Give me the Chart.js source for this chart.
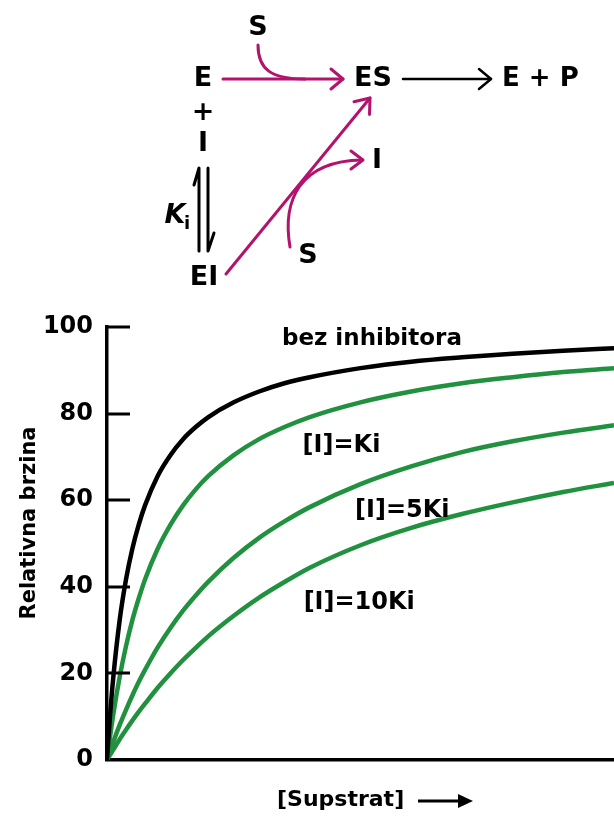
<!DOCTYPE html>
<html>
<head>
<meta charset="utf-8">
<script src="https://cdn.jsdelivr.net/npm/chart.js@4/dist/chart.umd.min.js"></script>
<style>
    html, body { margin: 0; padding: 0; background: #fff; }
    #wrap { width: 614px; height: 816px; position: relative; }
</style>
</head>
<body>
<div id="wrap"><canvas id="rateChart"></canvas></div>
<script>
// Substrate concentration (relative units) and relative rates
const substrate   = [0, 0.1, 0.25, 0.5, 0.75, 1, 1.25, 1.5, 2, 2.5, 3, 3.5, 4, 5, 6, 7, 8, 10, 12, 14, 16, 18, 20];
const noInhibitor = [0, 8.7, 19.2, 32.3, 41.7, 48.8, 54.3, 58.8, 65.6, 70.4, 74.1, 76.9, 79.2, 82.6, 85.1, 87, 88.4, 90.5, 92, 93, 93.8, 94.5, 95.1];
const inhibKi     = [0, 4.5, 10.6, 19.2, 26.3, 32.3, 37.3, 41.7, 48.8, 54.3, 58.8, 62.5, 65.6, 70.4, 74.1, 76.9, 79.2, 82.6, 85.1, 87, 88.4, 89.6, 90.5];
const inhib5Ki    = [0, 1.7, 4.2, 8.1, 11.6, 14.9, 18, 20.8, 26, 30.5, 34.5, 38, 41.2, 46.7, 51.3, 55.1, 58.4, 63.7, 67.8, 71.1, 73.6, 75.6, 77.3];
const inhib10Ki   = [0, 1, 2.4, 4.8, 7, 9.1, 11.1, 13, 16.7, 20, 23.1, 25.9, 28.6, 33.3, 37.5, 41.1, 44.4, 49.6, 53.6, 56.8, 59.5, 61.9, 64];
const seriesLabels = ['bez inhibitora', '[I]=Ki', '[I]=5Ki', '[I]=10Ki'];
const yTicks = [0, 20, 40, 60, 80, 100];

const BLACK = '#000000';
const GREEN = '#21913f';
const MAGENTA = '#b3136c';
const FONT = '"DejaVu Sans", Verdana, sans-serif';

function toPoints(values) {
    return substrate.map((s, i) => ({ x: s, y: values[i] }));
}

// open arrow head (chevron) at x,y pointing along angle
function chevron(ctx, x, y, angle, len, spread) {
    ctx.beginPath();
    ctx.moveTo(x - len * Math.cos(angle) + spread * Math.sin(angle), y - len * Math.sin(angle) - spread * Math.cos(angle));
    ctx.lineTo(x, y);
    ctx.lineTo(x - len * Math.cos(angle) - spread * Math.sin(angle), y - len * Math.sin(angle) + spread * Math.cos(angle));
    ctx.stroke();
}

function text(ctx, str, x, y, size, align, style) {
    ctx.font = (style || 'bold') + ' ' + size + 'px ' + FONT;
    ctx.textAlign = align || 'center';
    ctx.textBaseline = 'middle';
    ctx.fillText(str, x, y);
}

// Reaction scheme above the plot
const schemePlugin = {
    id: 'scheme',
    afterDraw(chart) {
        const ctx = chart.ctx;
        ctx.save();
        ctx.fillStyle = BLACK;
        ctx.lineCap = 'round';
        ctx.lineJoin = 'round';

        text(ctx, 'S', 258, 28, 27);
        text(ctx, 'E', 203, 79, 27);
        text(ctx, 'ES', 373, 79, 27);
        text(ctx, 'E + P', 502, 79, 26, 'left');
        text(ctx, '+', 203, 113, 27);
        text(ctx, 'I', 203, 144, 27);
        text(ctx, 'EI', 204, 278, 27);
        text(ctx, 'I', 377, 161, 27);
        text(ctx, 'S', 308, 256, 27);
        text(ctx, 'K', 175, 216, 27, 'center', 'italic bold');
        text(ctx, 'i', 187, 224, 18);

        // black arrow ES -> E + P
        ctx.strokeStyle = BLACK;
        ctx.lineWidth = 2.5;
        ctx.beginPath();
        ctx.moveTo(403, 79);
        ctx.lineTo(491, 79);
        ctx.stroke();
        chevron(ctx, 491, 79, 0, 12, 10);

        // equilibrium half arrows
        ctx.lineWidth = 3;
        ctx.beginPath();
        ctx.moveTo(199, 251);
        ctx.lineTo(199, 168);
        ctx.lineTo(194, 185);
        ctx.stroke();
        ctx.beginPath();
        ctx.moveTo(208, 168);
        ctx.lineTo(208, 251);
        ctx.lineTo(214, 233);
        ctx.stroke();

        // magenta arrows
        ctx.strokeStyle = MAGENTA;
        ctx.lineWidth = 3;
        ctx.beginPath();
        ctx.moveTo(223, 79);
        ctx.lineTo(343, 79);
        ctx.stroke();
        chevron(ctx, 343, 79, 0, 12, 10);
        ctx.beginPath();
        ctx.moveTo(258, 45);
        ctx.bezierCurveTo(258, 70, 272, 79, 305, 79);
        ctx.stroke();

        ctx.beginPath();
        ctx.moveTo(226, 274);
        ctx.lineTo(370, 98);
        ctx.stroke();
        chevron(ctx, 370, 98, Math.atan2(98 - 274, 370 - 226), 13, 10);

        ctx.beginPath();
        ctx.moveTo(290, 247);
        ctx.bezierCurveTo(282, 200, 300, 161, 362, 160);
        ctx.stroke();
        chevron(ctx, 363, 160, 0, 12, 9);
        ctx.restore();
    }
};

// inner tick marks, axis titles and curve labels
const decorPlugin = {
    id: 'decor',
    afterDraw(chart) {
        const ctx = chart.ctx;
        const xs = chart.scales.x;
        const ys = chart.scales.y;
        ctx.save();
        ctx.strokeStyle = BLACK;
        ctx.fillStyle = BLACK;
        ctx.lineWidth = 3;
        yTicks.forEach(v => {
            if (v === 0) return;
            const py = Math.round(ys.getPixelForValue(v));
            ctx.beginPath();
            ctx.moveTo(xs.left, py);
            ctx.lineTo(xs.left + 23, py);
            ctx.stroke();
        });

        // y title
        ctx.save();
        ctx.translate(30, 523);
        ctx.rotate(-Math.PI / 2);
        text(ctx, 'Relativna brzina', 0, 0, 21);
        ctx.restore();

        // x title with arrow
        text(ctx, '[Supstrat]', 277, 800, 22, 'left');
        ctx.lineWidth = 3;
        ctx.beginPath();
        ctx.moveTo(418, 801);
        ctx.lineTo(462, 801);
        ctx.stroke();
        ctx.beginPath();
        ctx.moveTo(473, 801);
        ctx.lineTo(458, 794);
        ctx.lineTo(458, 808);
        ctx.closePath();
        ctx.fill();

        // curve labels placed in data space
        const labelPos = [[10.45, 97.2], [9.25, 72.5], [11.65, 57.5], [9.95, 36.2]];
        const labelSize = [23, 24, 24, 24];
        labelPos.forEach((p, i) => {
            text(ctx, seriesLabels[i], xs.getPixelForValue(p[0]), ys.getPixelForValue(p[1]), labelSize[i]);
        });
        ctx.restore();
    }
};

const ctx = document.getElementById('rateChart').getContext('2d');
const datasets = [
    { label: seriesLabels[0], data: toPoints(noInhibitor), borderColor: BLACK },
    { label: seriesLabels[1], data: toPoints(inhibKi), borderColor: GREEN },
    { label: seriesLabels[2], data: toPoints(inhib5Ki), borderColor: GREEN },
    { label: seriesLabels[3], data: toPoints(inhib10Ki), borderColor: GREEN }
].map(d => Object.assign(d, {
    borderWidth: 4.5,
    pointRadius: 0,
    fill: false,
    cubicInterpolationMode: 'monotone'
}));

new Chart(ctx, {
    type: 'line',
    data: { datasets: datasets },
    options: {
        responsive: true,
        maintainAspectRatio: false,
        animation: false,
        layout: { padding: { top: 327, left: 0, right: 0, bottom: 0 } },
        plugins: {
            legend: { display: false },
            tooltip: { enabled: false }
        },
        scales: {
            x: {
                type: 'linear',
                min: 0,
                max: 20,
                ticks: { display: false },
                grid: { display: false, drawTicks: false },
                border: { display: true, color: BLACK, width: 3.5 },
                afterFit: scale => { scale.height = 56; }
            },
            y: {
                min: 0,
                max: 100,
                afterBuildTicks: scale => { scale.ticks = yTicks.map(v => ({ value: v })); },
                ticks: {
                    color: BLACK,
                    padding: 14,
                    font: { family: FONT, weight: 'bold', size: 24 }
                },
                grid: { display: false, drawTicks: false },
                border: { display: true, color: BLACK, width: 3.5 },
                afterFit: scale => { scale.width = 107; }
            }
        }
    },
    plugins: [schemePlugin, decorPlugin]
});
</script>
</body>
</html>
